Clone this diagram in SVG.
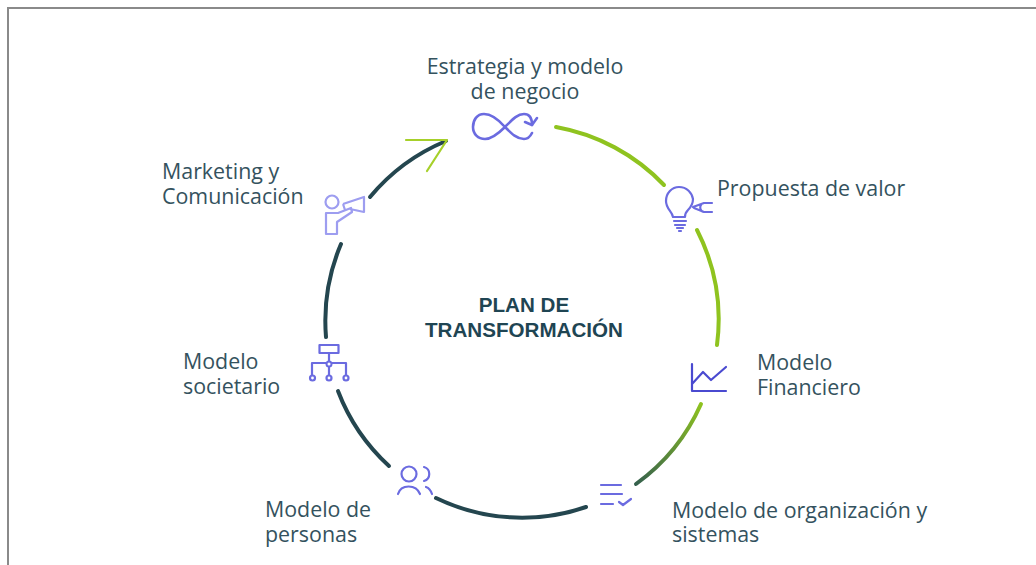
<svg xmlns="http://www.w3.org/2000/svg" width="1036" height="565" viewBox="0 0 1036 565">
<defs>
<linearGradient id="lg" gradientUnits="userSpaceOnUse" x1="704" y1="405" x2="630" y2="488"><stop offset="0" stop-color="#8fc31f"/><stop offset="1" stop-color="#2f5a50"/></linearGradient>
</defs>
<style>
.t{font-family:"Open Sans","Noto Sans","Liberation Sans",sans-serif;font-size:21.4px;fill:#34525e}
.h{font-family:"Liberation Sans",Arial,sans-serif;font-size:20.6px;font-weight:700;fill:#1f4553;text-anchor:middle}
.ic{fill:none;stroke:#6b6be0;stroke-width:2.200;stroke-linecap:round;stroke-linejoin:round}
.g{fill:none;stroke:#8fc31f;stroke-width:4;stroke-linecap:round}
.d{fill:none;stroke:#24464f;stroke-width:4;stroke-linecap:round}
</style>
<rect width="1036" height="565" fill="#fff"/>
<path d="M8 565V8H1036" fill="none" stroke="#8a8a8a" stroke-width="2"/>
<g id="connectors">
<path class="g" d="M556 127A197 197 0 0 1 664 185"/>
<path class="g" d="M697 230A197 197 0 0 1 717 345"/>
<path d="M701 404A197 197 0 0 1 636 484" fill="none" stroke="url(#lg)" stroke-width="4" stroke-linecap="round"/>
<path class="d" d="M586 507A197 197 0 0 1 436 498"/>
<path class="d" d="M389 466A197 197 0 0 1 338 391"/>
<path class="d" d="M326 337A197 197 0 0 1 341 244"/>
<path class="d" d="M370 197A197 197 0 0 1 446 141"/>
<path d="M406 140H447L427 171" fill="none" stroke="#a6d02a" stroke-width="2.200" stroke-linecap="round" stroke-linejoin="round"/>
</g>
<g id="estrategia">
<text class="t" x="525" y="74" text-anchor="middle">Estrategia y modelo</text>
<text class="t" x="525" y="99" text-anchor="middle">de negocio</text>
<path class="ic" style="stroke-width:2.600" d="M505 127C498 119 491 114 484 114C477 114 473 120 473 127C473 134 478 139 485 139C492 139 498 134 505 127C512 120 517 114 524 114C529 114 532 118 532 125M532 133C530 137 528 139 524 139C517 139 512 134 505 127"/>
<path class="ic" style="stroke-width:2.600" d="M525 122L532 125L537 118"/>
</g>
<g id="propuesta">
<text class="t" x="717" y="196">Propuesta de valor</text>
<path class="ic" d="M673 217C672 211 666 209 666 201C666 193 672 187 679 187C687 187 692 193 693 199C693 204 691 207 688 210C686 212 685 214 685 217Z"/>
<path class="ic" d="M674 221H686M675 225H685M677 228H683M679 231H681M693 207L704 203H712M694 208L704 212H712M704 203C699 204 699 211 704 212"/>
</g>
<g id="financiero">
<text class="t" x="757" y="370">Modelo</text>
<text class="t" x="757" y="395">Financiero</text>
<path d="M692 364V391H726M692 384L703 372L711 380L726 367" fill="none" stroke="#4a4ad0" stroke-width="2.200" stroke-linecap="round" stroke-linejoin="round"/>
</g>
<g id="organizacion">
<text class="t" x="672" y="518">Modelo de organización y</text>
<text class="t" x="672" y="542">sistemas</text>
<path class="ic" d="M601 485H621M601 494H622M601 504H613M619 502L623 505L631 499"/>
</g>
<g id="personas">
<text class="t" x="265" y="517">Modelo de</text>
<text class="t" x="265" y="542">personas</text>
<circle class="ic" cx="409" cy="474" r="7.500"/>
<path class="ic" d="M398 494C401 484 416 484 420 494M424 467C431 469 431 479 424 481M426 487C429 488 431 491 432 494"/>
</g>
<g id="societario">
<text class="t" x="183" y="369">Modelo</text>
<text class="t" x="183" y="394">societario</text>
<rect class="ic" x="319.500" y="345" width="19" height="8"/>
<path class="ic" d="M329 353V375M312 375V363H346V375"/>
<circle cx="329" cy="364" r="2.500" fill="#fff" stroke="#6b6be0" stroke-width="2"/>
<circle class="ic" cx="312.500" cy="378" r="2.500"/>
<circle class="ic" cx="329" cy="378" r="2.500"/>
<circle class="ic" cx="346" cy="378" r="2.500"/>
</g>
<g id="marketing">
<text class="t" x="162" y="179">Marketing y</text>
<text class="t" x="162" y="204">Comunicación</text>
<circle cx="332" cy="202" r="6.500" fill="none" stroke="#9d9df0" stroke-width="2.200"/>
<path d="M326 213H338L351 208L352 212L337 222V234H326ZM343 204L364 197V212L350 209M343 204L345 210" fill="none" stroke="#9d9df0" stroke-width="2.200" stroke-linejoin="round"/>
</g>
<g id="centro">
<text class="h" x="524" y="312">PLAN DE</text>
<text class="h" x="524" y="337">TRANSFORMACIÓN</text>
</g>
</svg>
